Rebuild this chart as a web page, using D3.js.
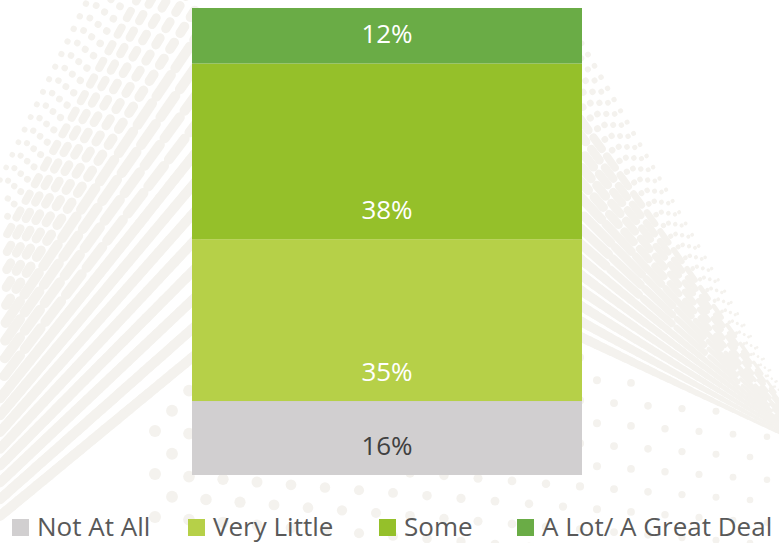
<!DOCTYPE html>
<html>
<head>
<meta charset="utf-8">
<script src="https://cdn.jsdelivr.net/npm/d3@7"></script>
<style>
  html, body { margin: 0; padding: 0; background: #ffffff; }
  svg { display: block; font-family: "Open Sans", sans-serif; }
</style>
</head>
<body>
<svg id="chart" width="779" height="543"></svg>
<script>
// Survey answer shares, bottom to top of the stacked bar
const categories = ["Not At All", "Very Little", "Some", "A Lot/ A Great Deal"];
const values = [16, 35, 38, 12];
const valueLabels = ["16%", "35%", "38%", "12%"];

// Styling
const W = 779, H = 543;
const segmentColors = ["#d1cfd0", "#b6d048", "#95c02a", "#6aac46"];
const labelColors = ["#404040", "#ffffff", "#ffffff", "#ffffff"];
const legendX = [12, 188, 379, 517];
const decoColor = "#f4f2ee";

const svg = d3.select("#chart");

// ---------- decorative dotted waves behind the chart ----------
const deco = svg.append("g")
  .attr("fill", "none")
  .attr("stroke", decoColor)
  .attr("stroke-linecap", "round");

// One streak: dashes (or a continuous run) from p0 towards p1, width tapering w0 -> w1
function streak(x0, y0, x1, y1, w0, w1, dash, gap, phase) {
  const len = Math.hypot(x1 - x0, y1 - y0);
  const ux = (x1 - x0) / len, uy = (y1 - y0) / len;
  const segs = [];
  if (gap === 0) {
    for (let s = 0; s < len; s += 8) segs.push([s, Math.min(s + 8, len)]);
  } else {
    for (let s = phase; s < len; s += dash + gap) segs.push([s, Math.min(s + dash, len)]);
  }
  deco.append("g").selectAll("line").data(segs).join("line")
    .attr("x1", d => x0 + ux * d[0]).attr("y1", d => y0 + uy * d[0])
    .attr("x2", d => x0 + ux * d[1]).attr("y2", d => y0 + uy * d[1])
    .attr("stroke-width", d => w0 + (w1 - w0) * ((d[0] + d[1]) / 2) / len);
}

// Left fan: rays from a point off-canvas at lower left
const leftHub = [-274, 742];
d3.range(21).forEach(i => {
  const y0 = 180 + i * 16.8;
  const k = (y0 - leftHub[1]) / (0 - leftHub[0]);
  let xe = 196;
  if (y0 + k * xe < -6) xe = (-6 - y0) / k;
  const ye = y0 + k * xe;
  const w = 6.5 + 3.5 * Math.min(1, i / 9);
  const phase = (i * 37) % 19;
  if (i < 4) streak(0, y0, xe, ye, w - 1, w, 0.01, 14, phase);
  else if (i < 9) streak(0, y0, xe, ye, w, w, 8, 11, phase);
  else if (i < 13) streak(0, y0, xe, ye, w, w, 26, 8, phase);
  else streak(0, y0, xe, ye, w, w, 0, 0, 0);
});

// Right fan: rays converging to a point just past the right edge
const rightHub = [817, 451];
d3.range(20).forEach(i => {
  const y0 = 32 + i * 15.9;
  const x0 = 575;
  const w0 = 7 + 3 * Math.min(1, i / 8);
  const phase = (i * 29) % 17;
  if (i < 5) streak(x0, y0, rightHub[0], rightHub[1], w0 - 1, 1.5, 0.01, 13, phase);
  else if (i < 10) streak(x0, y0, rightHub[0], rightHub[1], w0, 1.5, 14, 9, phase);
  else if (i < 14) streak(x0, y0, rightHub[0], rightHub[1], w0, 1.5, 38, 6, phase);
  else streak(x0, y0, rightHub[0], rightHub[1], w0, 1.5, 0, 0, 0);
});

// Scattered dot lattice along the bottom
const dots = [];
for (let r = 0; r < 11; r++) {
  for (let c = 3; c < 25; c++) {
    const x = c * 34 + (r % 2 ? 2 : 19);
    const y = 337.5 + r * 21.5 + 0.08 * (x - 600);
    if (x < 140 || x > W + 6 || y > H + 6) continue;
    if (x > 575 && y < 335 + 0.48 * (x - 575) + 8) continue;
    if (x < 200 && y < 516 - 0.825 * x + 14) continue;
    dots.push([x, y, Math.max(3, 6 - 2.8 * (x - 150) / 630)]);
  }
}
svg.append("g").selectAll("circle").data(dots).join("circle")
  .attr("cx", d => d[0]).attr("cy", d => d[1]).attr("r", d => d[2])
  .attr("fill", decoColor);

// ---------- stacked bar ----------
const total = d3.sum(values);
const y = d3.scaleLinear().domain([0, total]).range([475, 8]);
const x = d3.scaleBand().domain(["all"]).range([192, 582]).padding(0);

const starts = values.map((v, i) => d3.sum(values.slice(0, i)));
const segs = values.map((v, i) => ({ v, i, start: starts[i], end: starts[i] + v }));

const bar = svg.append("g");
bar.selectAll("rect").data(segs).join("rect")
  .attr("x", x("all"))
  .attr("width", x.bandwidth())
  .attr("y", d => y(d.end))
  .attr("height", d => y(d.start) - y(d.end))
  .attr("fill", d => segmentColors[d.i]);

bar.selectAll("text").data(segs).join("text")
  .attr("x", x("all") + x.bandwidth() / 2)
  .attr("y", d => y(d.start) - 20)
  .attr("text-anchor", "middle")
  .attr("font-size", 26)
  .attr("fill", d => labelColors[d.i])
  .text(d => valueLabels[d.i]);

// ---------- legend ----------
const legend = svg.append("g");
const items = legend.selectAll("g").data(categories).join("g")
  .attr("transform", (d, i) => `translate(${legendX[i]},0)`);
items.append("rect")
  .attr("x", 0).attr("y", 519).attr("width", 17).attr("height", 17)
  .attr("fill", (d, i) => segmentColors[i]);
items.append("text")
  .attr("x", 25).attr("y", 535.5)
  .attr("font-size", 26)
  .attr("fill", "#595959")
  .text(d => d);
</script>
</body>
</html>
